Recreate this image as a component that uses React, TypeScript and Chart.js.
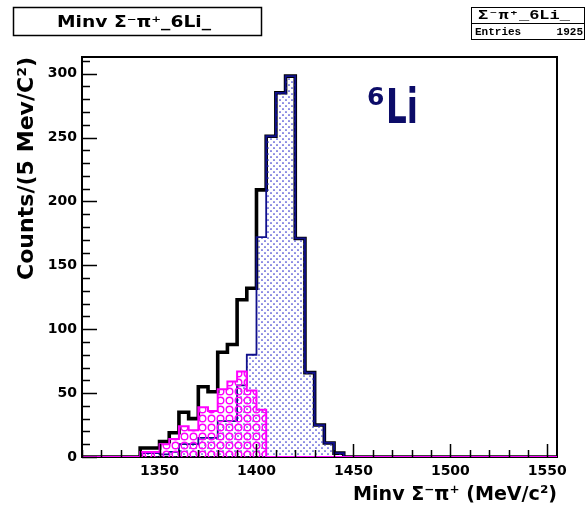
import React, { useEffect, useRef } from 'react';
import { Chart, registerables } from 'chart.js';

Chart.register(...registerables);

// ---- data ----
const X_MIN = 1310;
const X_MAX = 1555;
const BIN_WIDTH = 5;
const Y_MAX = 313;
const ENTRIES = 1925;

const binStarts = [1340, 1345, 1350, 1355, 1360, 1365, 1370, 1375, 1380, 1385, 1390, 1395, 1400, 1405, 1410, 1415, 1420, 1425, 1430, 1435, 1440];
const totalCounts = [7, 7, 12, 19, 35, 30, 55, 51, 82, 88, 123, 132, 209, 251, 285, 298, 171, 66, 25, 11, 3];
const blueCounts = [3, 3, 2, 4, 10, 10, 15, 15, 28, 28, 56, 80, 172, 251, 285, 298, 171, 66, 25, 11, 3];
const magentaCounts = [4, 4, 10, 14, 24, 21, 39, 36, 53, 59, 67, 52, 37, 0, 0, 0, 0, 0, 0, 0, 0];

const X_MAJOR = 50;
const X_MINOR = 10;
const Y_MAJOR = 50;
const Y_MINOR = 10;

const titleText = 'Minv Σ⁻π⁺_6Li_';
const statsName = 'Σ⁻π⁺_6Li_';
const xTitle = 'Minv Σ⁻π⁺ (MeV/c²)';
const yTitle = 'Counts/(5 Mev/C²)';

const FONT = '"DejaVu Sans", sans-serif';

function histPoints(starts: number[], counts: number[]) {
  const pts: { x: number; y: number }[] = [];
  const nb = Math.round((X_MAX - X_MIN) / BIN_WIDTH);
  for (let k = 0; k < nb; k++) {
    const x = X_MIN + k * BIN_WIDTH;
    const i = starts.indexOf(x);
    pts.push({ x, y: i >= 0 ? counts[i] : 0 });
  }
  pts.push({ x: X_MAX, y: 0 });
  return pts;
}

function makeDots(): CanvasPattern | string {
  const c = document.createElement('canvas');
  c.width = 6;
  c.height = 6;
  const g = c.getContext('2d');
  if (!g) return 'rgba(0,0,200,0.2)';
  g.fillStyle = '#3030cc';
  g.beginPath();
  g.arc(1, 1, 0.85, 0, Math.PI * 2);
  g.arc(4, 4, 0.85, 0, Math.PI * 2);
  g.fill();
  return g.createPattern(c, 'repeat') as CanvasPattern;
}

function makeCircles(): CanvasPattern | string {
  const c = document.createElement('canvas');
  c.width = 9;
  c.height = 9;
  const g = c.getContext('2d');
  if (!g) return 'rgba(255,0,255,0.2)';
  g.strokeStyle = '#ff00ff';
  g.lineWidth = 1.4;
  g.beginPath();
  g.arc(4.5, 4.5, 3.3, 0, Math.PI * 2);
  g.stroke();
  return g.createPattern(c, 'repeat') as CanvasPattern;
}

function fitText(ctx: CanvasRenderingContext2D, text: string, x: number, y: number, font: string, width: number) {
  ctx.save();
  ctx.font = font;
  const w = ctx.measureText(text).width;
  const sx = width / w;
  ctx.translate(x, y);
  ctx.scale(sx, 1);
  ctx.textAlign = 'left';
  ctx.textBaseline = 'alphabetic';
  ctx.fillText(text, 0, 0);
  ctx.restore();
}

const decor = {
  id: 'decor',
  beforeDatasetsDraw(chart: any) {
    const { ctx, chartArea } = chart;
    ctx.save();
    ctx.strokeStyle = '#000';
    ctx.lineWidth = 2;
    ctx.strokeRect(chartArea.left, chartArea.top, chartArea.right - chartArea.left, chartArea.bottom - chartArea.top);
    ctx.restore();
  },
  afterDatasetsDraw(chart: any) {
    const { ctx, chartArea, scales } = chart;
    const xs = scales.x;
    const ys = scales.y;
    ctx.save();
    ctx.strokeStyle = '#000';
    ctx.lineWidth = 1.5;
    ctx.beginPath();
    for (let v = 0; v <= Y_MAX; v += Y_MINOR) {
      const py = Math.round(ys.getPixelForValue(v)) + 0.5;
      const len = v % Y_MAJOR === 0 ? 15 : 8;
      ctx.moveTo(chartArea.left, py);
      ctx.lineTo(chartArea.left + len, py);
    }
    const start = Math.ceil(X_MIN / X_MINOR) * X_MINOR;
    for (let v = start; v <= X_MAX; v += X_MINOR) {
      const px = Math.round(xs.getPixelForValue(v)) + 0.5;
      const len = v % X_MAJOR === 0 ? 13 : 7;
      ctx.moveTo(px, chartArea.bottom);
      ctx.lineTo(px, chartArea.bottom - len);
    }
    ctx.stroke();
    ctx.restore();
  },
  afterDraw(chart: any) {
    const ctx: CanvasRenderingContext2D = chart.ctx;
    ctx.save();
    ctx.fillStyle = '#000';
    ctx.strokeStyle = '#000';
    // title box
    ctx.lineWidth = 1.5;
    ctx.strokeRect(13.5, 7.5, 248, 28);
    fitText(ctx, titleText, 57, 27, `bold 16px ${FONT}`, 154);
    // stats box
    ctx.lineWidth = 1;
    ctx.strokeRect(471.5, 7.5, 113, 32);
    ctx.beginPath();
    ctx.moveTo(471.5, 23.5);
    ctx.lineTo(584.5, 23.5);
    ctx.stroke();
    fitText(ctx, statsName, 478, 19, 'bold 12px "Liberation Mono", monospace', 92);
    ctx.font = 'bold 11px "Liberation Mono", monospace';
    ctx.textAlign = 'left';
    ctx.fillText('Entries', 475, 35);
    ctx.textAlign = 'right';
    ctx.fillText(String(ENTRIES), 583, 35);
    // x title
    fitText(ctx, xTitle, 353, 500, `bold 20px ${FONT}`, 204);
    // y title (rotated)
    ctx.save();
    ctx.translate(33, 280);
    ctx.rotate(-Math.PI / 2);
    fitText(ctx, yTitle, 0, 0, `bold 21px ${FONT}`, 223);
    ctx.restore();
    // 6Li label
    ctx.fillStyle = '#0c0c68';
    ctx.font = `bold 25px ${FONT}`;
    ctx.textAlign = 'left';
    ctx.fillText('6', 367, 105);
    ctx.save();
    ctx.translate(386, 123);
    ctx.scale(0.68, 1);
    ctx.font = `bold 48px ${FONT}`;
    ctx.fillText('Li', 0, 0);
    ctx.restore();
    ctx.restore();
  },
};

export default function App() {
  const ref = useRef<HTMLCanvasElement>(null);
  useEffect(() => {
    if (!ref.current) return;
    const dots = makeDots();
    const circles = makeCircles();
    const chart = new Chart(ref.current, {
      type: 'line',
      data: {
        datasets: [
          {
            label: 'magenta',
            data: histPoints(binStarts, magentaCounts),
            stepped: 'before',
            borderColor: '#ff00ff',
            borderWidth: 2,
            backgroundColor: circles as any,
            fill: 'origin',
            pointRadius: 0,
          },
          {
            label: 'blue',
            data: histPoints(binStarts, blueCounts),
            stepped: 'before',
            borderColor: '#10108c',
            borderWidth: 1.8,
            backgroundColor: dots as any,
            fill: 'origin',
            pointRadius: 0,
          },
          {
            label: 'total',
            data: histPoints(binStarts, totalCounts),
            stepped: 'before',
            borderColor: '#000000',
            borderWidth: 3.6,
            backgroundColor: 'rgba(0,0,0,0)',
            fill: false,
            pointRadius: 0,
          },
        ],
      },
      options: {
        animation: false,
        responsive: false,
        devicePixelRatio: 1,
        layout: { padding: { left: 0, top: 57, right: 29, bottom: 0 } },
        plugins: { legend: { display: false }, tooltip: { enabled: false }, title: { display: false } },
        elements: { line: { tension: 0, borderJoinStyle: 'miter' } },
        scales: {
          x: {
            type: 'linear',
            min: X_MIN,
            max: X_MAX,
            grid: { display: false, drawTicks: false },
            border: { display: false },
            ticks: {
              stepSize: X_MAJOR,
              includeBounds: false,
              padding: 6,
              color: '#000',
              font: { family: FONT, weight: 'bold', size: 14 },
              maxRotation: 0,
              callback: (v: any) => String(v),
            },
            afterFit: (s: any) => {
              s.height = 50;
            },
          },
          y: {
            type: 'linear',
            min: 0,
            max: Y_MAX,
            grid: { display: false, drawTicks: false },
            border: { display: false },
            ticks: {
              stepSize: Y_MAJOR,
              includeBounds: false,
              padding: 5,
              color: '#000',
              font: { family: FONT, weight: 'bold', size: 14 },
              callback: (v: any) => String(v),
            },
            afterFit: (s: any) => {
              s.width = 82;
            },
          },
        },
      },
      plugins: [decor],
    } as any);
    return () => chart.destroy();
  }, []);
  return (
    <div style={{ position: 'absolute', left: 0, top: 0, width: 586, height: 507, background: '#fff' }}>
      <canvas ref={ref} width={586} height={507} style={{ width: 586, height: 507, display: 'block' }} />
    </div>
  );
}
